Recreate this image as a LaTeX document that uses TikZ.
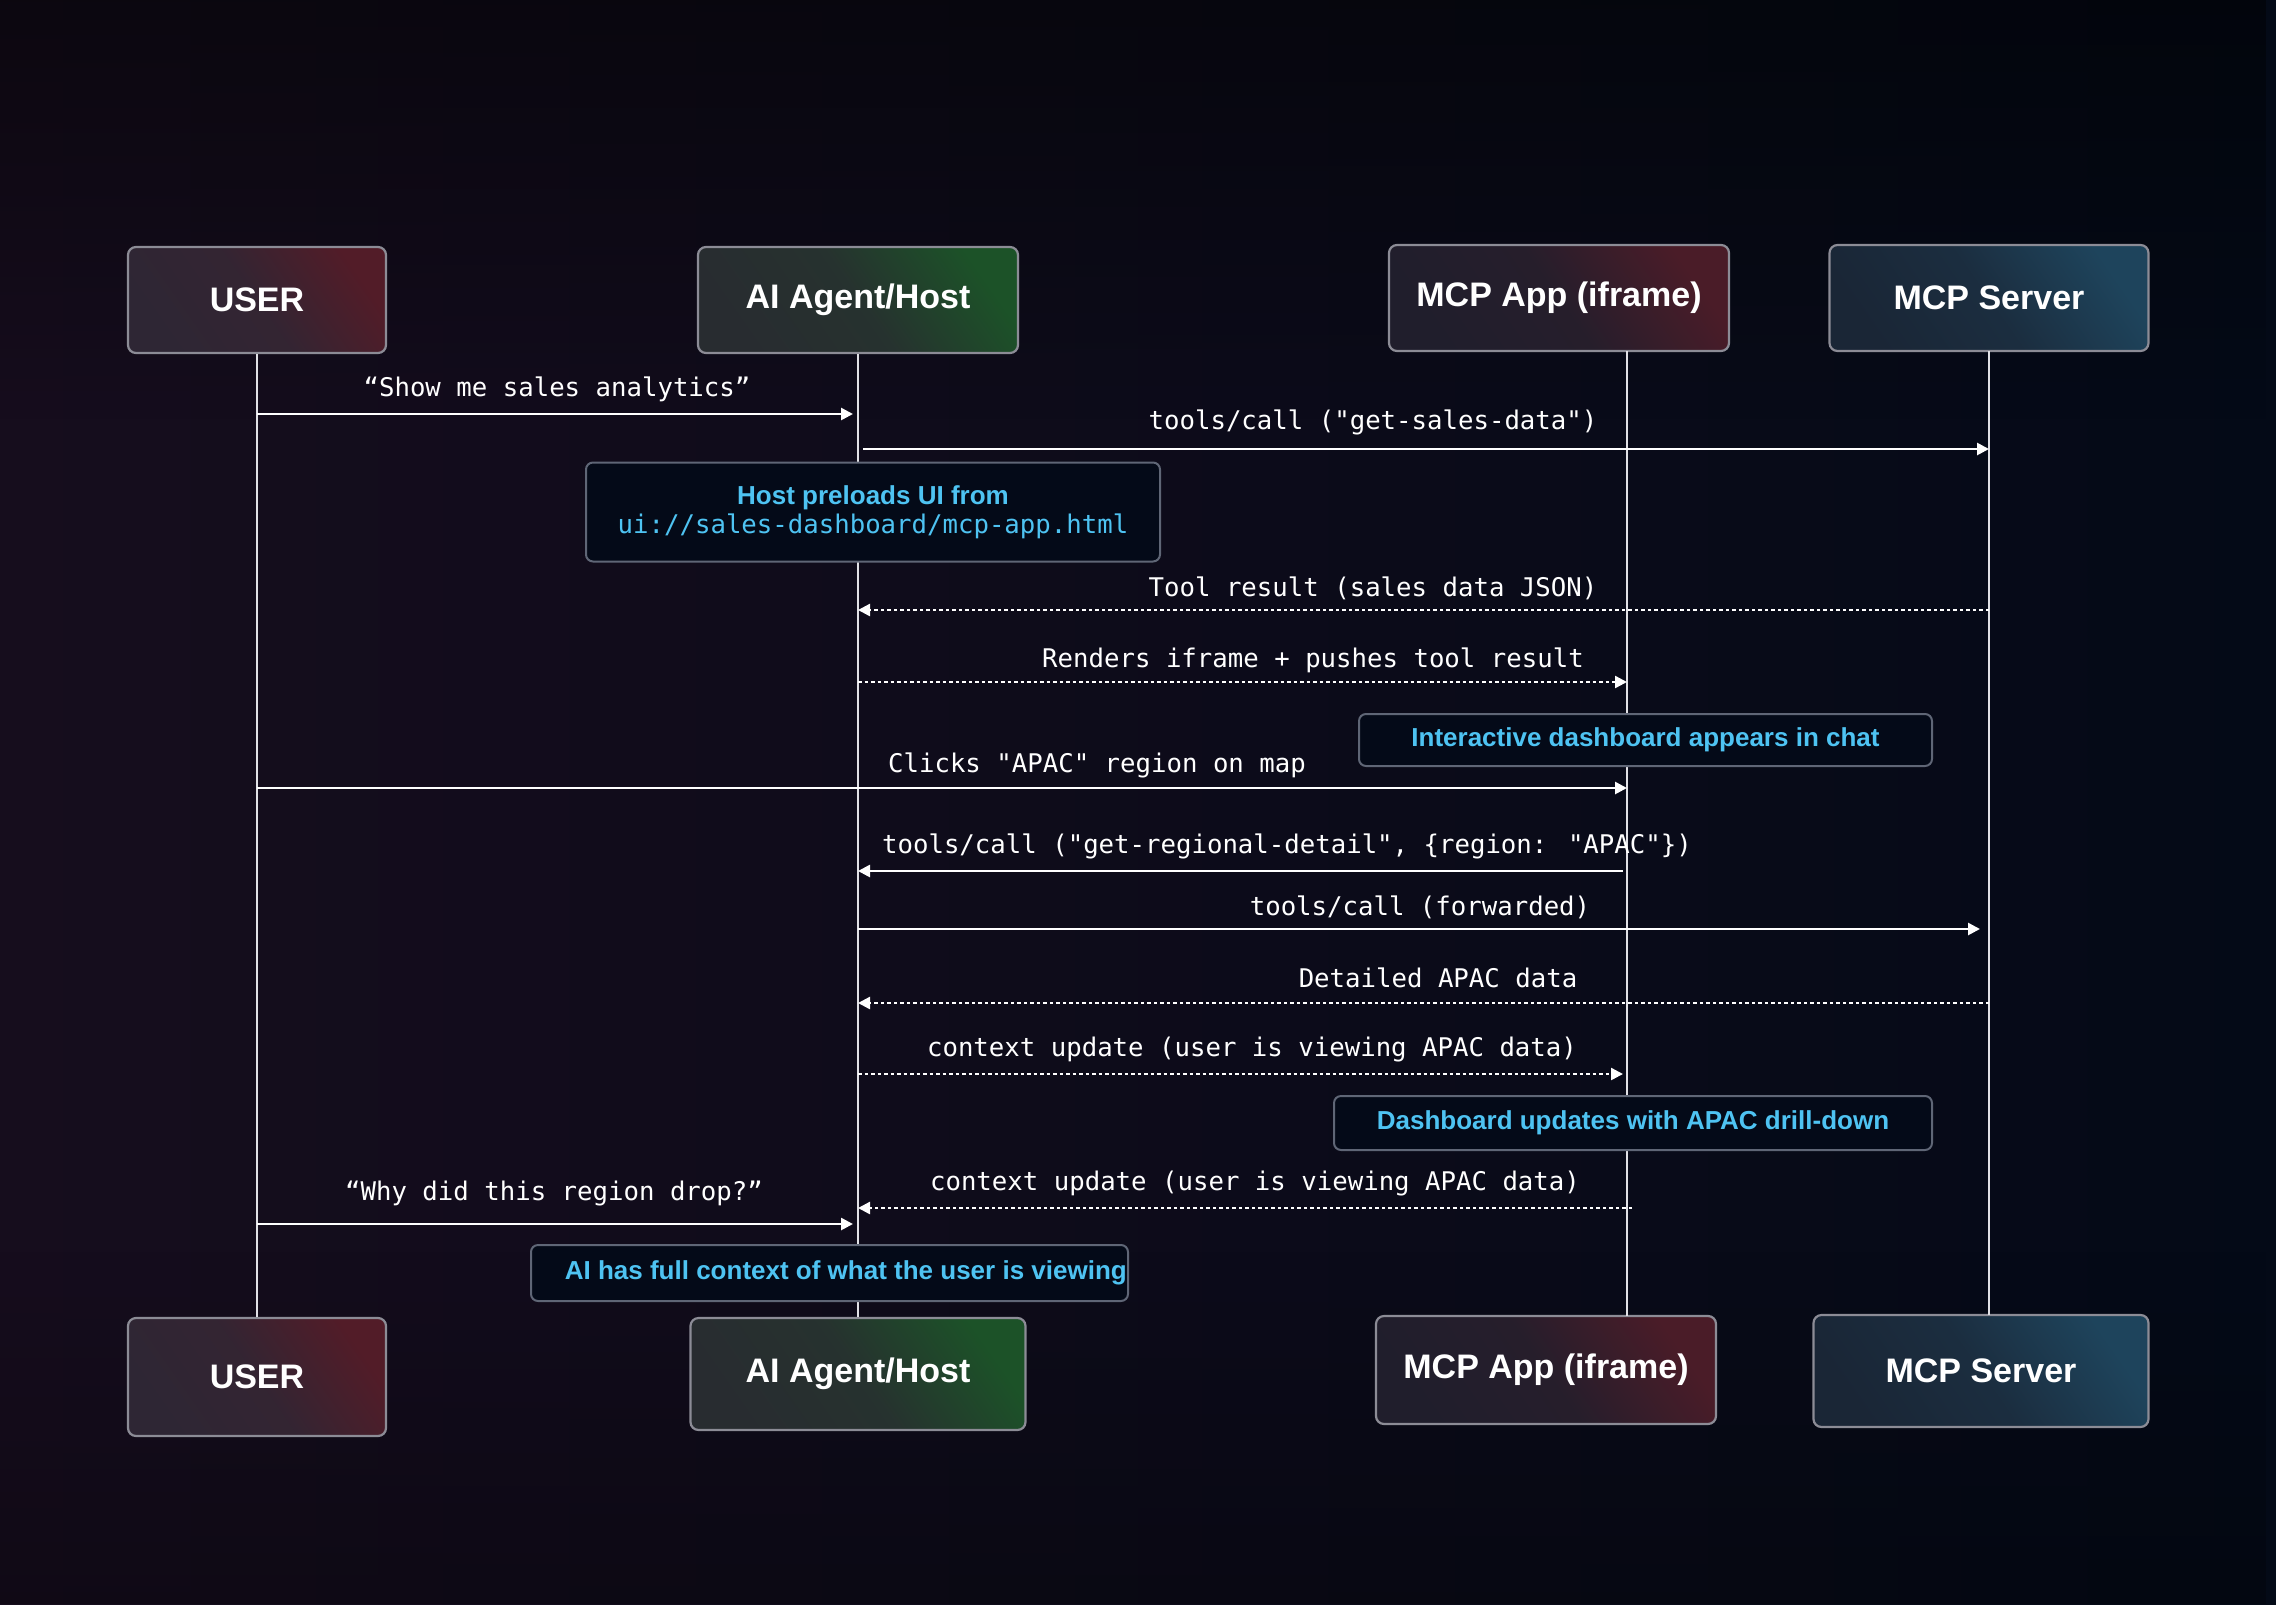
\documentclass[tikz,border=0pt]{standalone}
\usepackage{fontspec}
\setmainfont{Liberation Sans}
\newfontfamily\monofam{DejaVu Sans Mono}
\usetikzlibrary{arrows.meta,fadings,calc}
\definecolor{bgL}{RGB}{22,13,29}
\definecolor{bgR}{RGB}{4,10,23}
\definecolor{bdr}{RGB}{140,140,150}
\definecolor{nbdr}{RGB}{95,102,118}
\definecolor{nfill}{RGB}{4,10,24}
\definecolor{cyantxt}{RGB}{78,195,242}
\definecolor{lline}{RGB}{225,225,230}
\definecolor{uDark}{RGB}{46,38,52}
\definecolor{uAcc}{RGB}{82,28,40}
\definecolor{hDark}{RGB}{40,44,48}
\definecolor{hAcc}{RGB}{28,82,40}
\definecolor{pDark}{RGB}{32,30,44}
\definecolor{pAcc}{RGB}{74,28,40}
\definecolor{sDark}{RGB}{26,38,54}
\definecolor{sAcc}{RGB}{30,68,92}
\tikzset{
  actor/.style={draw=bdr, line width=2.2pt, rounded corners=8pt, text=white,
    font=\fontsize{34}{40}\selectfont\bfseries, inner sep=0pt},
  userbox/.style={actor, top color=uAcc, bottom color=uDark, middle color=uDark!85!uAcc, shading angle=-55},
  hostbox/.style={actor, top color=hAcc, bottom color=hDark, middle color=hDark!85!hAcc, shading angle=-55},
  appbox/.style={actor, top color=pAcc, bottom color=pDark, middle color=pDark!85!pAcc, shading angle=-55},
  serverbox/.style={actor, top color=sAcc, bottom color=sDark, middle color=sDark!75!sAcc, shading angle=-55},
  notebox/.style={draw=nbdr, line width=2pt, rounded corners=7pt, fill=nfill, text=cyantxt,
    font=\fontsize{26}{30}\selectfont\bfseries, inner sep=0pt, align=center},
  lifeline/.style={draw=lline, line width=1.6pt},
  msg/.style={draw=white, line width=2.6pt, -{Triangle[length=12pt,width=12pt]}},
  rmsg/.style={draw=white, line width=2.4pt, dash pattern=on 3.5pt off 3pt, -{Triangle[length=12pt,width=12pt]}},
  lbl/.style={text=white, font=\fontsize{25.7}{30}\selectfont\monofam, inner sep=0pt}
}
\begin{document}
\begin{tikzpicture}[x=1pt,y=-1pt]
\useasboundingbox (0,0) rectangle (2276,1604);
% background
\shade[left color=bgL, right color=bgR] (0,0) rectangle (2276,1604);
\fill[black, opacity=0.45, path fading=south] (0,0) rectangle (2276,420);
\fill[black, opacity=0.25, path fading=north] (0,1250) rectangle (2276,1604);

% actors top
\node[userbox, minimum width=258pt, minimum height=106pt] (u1) at (257,300) {USER};
\node[hostbox, minimum width=320pt, minimum height=106pt] (a1) at (858,300) {AI Agent/Host};
\node[appbox, minimum width=340pt, minimum height=106pt] (p1) at (1559,298) {MCP App (iframe)};
\node[serverbox, minimum width=319pt, minimum height=106pt] (s1) at (1989,298) {MCP Server};
% actors bottom
\node[userbox, minimum width=258pt, minimum height=118pt] (u2) at (257,1377) {USER};
\node[hostbox, minimum width=335pt, minimum height=112pt] (a2) at (858,1374) {AI Agent/Host};
\node[appbox, minimum width=340pt, minimum height=108pt] (p2) at (1546,1370) {MCP App (iframe)};
\node[serverbox, minimum width=335pt, minimum height=112pt] (s2) at (1981,1371) {MCP Server};

% lifeline anchors
\coordinate (pT) at (1627,351);
\coordinate (pB) at (1627,1316);
\coordinate (sT) at (1989,351);
\coordinate (sB) at (1989,1315);

% lifelines
\draw[lifeline] (u1.south) -- (u2.north);
\draw[lifeline] (a1.south) -- (a2.north);
\draw[lifeline] (pT) -- (pB);
\draw[lifeline] (sT) -- (sB);

% messages
\draw[msg] (u1.south |- 0,414) -- (853,414);
\node[lbl] (l1) at (557,389) {“Show me sales analytics”};

\draw[msg] (863,449) -- (sT |- 0,449);
\node[lbl] (l2) at (1373,422) {tools/call ("get-sales-data")};

\draw[rmsg] (sT |- 0,610) -- (a1.south |- 0,610);
\node[lbl] (l4) at (1373,588) {Tool result (sales data JSON)};

\draw[rmsg] (a1.south |- 0,682) -- (pT |- 0,682);
\node[lbl] (l5) at (1313,660) {Renders iframe + pushes tool result};

\draw[msg] (u1.south |- 0,788) -- (pT |- 0,788);
\node[lbl] (l7) at (1097,765) {Clicks "APAC" region on map};

\draw[msg] (1623,871) -- (a1.south |- 0,871);
\node[lbl] (l8) at (1287,846) {tools/call ("get-regional-detail", \{region: "APAC"\})};

\draw[msg] (a1.south |- 0,929) -- (1980,929);
\node[lbl] (l9) at (1420,907) {tools/call (forwarded)};

\draw[rmsg] (sT |- 0,1003) -- (a1.south |- 0,1003);
\node[lbl] (l10) at (1438,978) {Detailed APAC data};

\draw[rmsg] (a1.south |- 0,1074) -- (1623,1074);
\node[lbl] (l11) at (1252,1049) {context update (user is viewing APAC data)};

\draw[rmsg] (1632,1208) -- (a1.south |- 0,1208);
\node[lbl] (l13) at (1255,1183) {context update (user is viewing APAC data)};

\draw[msg] (u1.south |- 0,1224) -- (853,1224);
\node[lbl] (l14) at (554,1193) {“Why did this region drop?”};

% notes
\node[notebox, minimum width=574pt, minimum height=99pt] (n1) at (873,512)
  {Host preloads UI from\\[-1pt]{\mdseries\monofam\fontsize{25.7}{30}\selectfont ui://sales-dashboard/mcp-app.html}};
\node[notebox, minimum width=573pt, minimum height=52pt] (n2) at (1645.5,740) {Interactive dashboard appears in chat};
\node[notebox, minimum width=598pt, minimum height=54pt] (n3) at (1633,1123) {Dashboard updates with APAC drill-down};
\node[notebox, minimum width=597pt, minimum height=56pt] (n4) at (829.5,1273) {};
\node[text=cyantxt, font=\fontsize{26}{30}\selectfont\bfseries, anchor=east, inner sep=0pt] (n4t) at (1127,1273) {AI has full context of what the user is viewing};
\end{tikzpicture}
\end{document}
